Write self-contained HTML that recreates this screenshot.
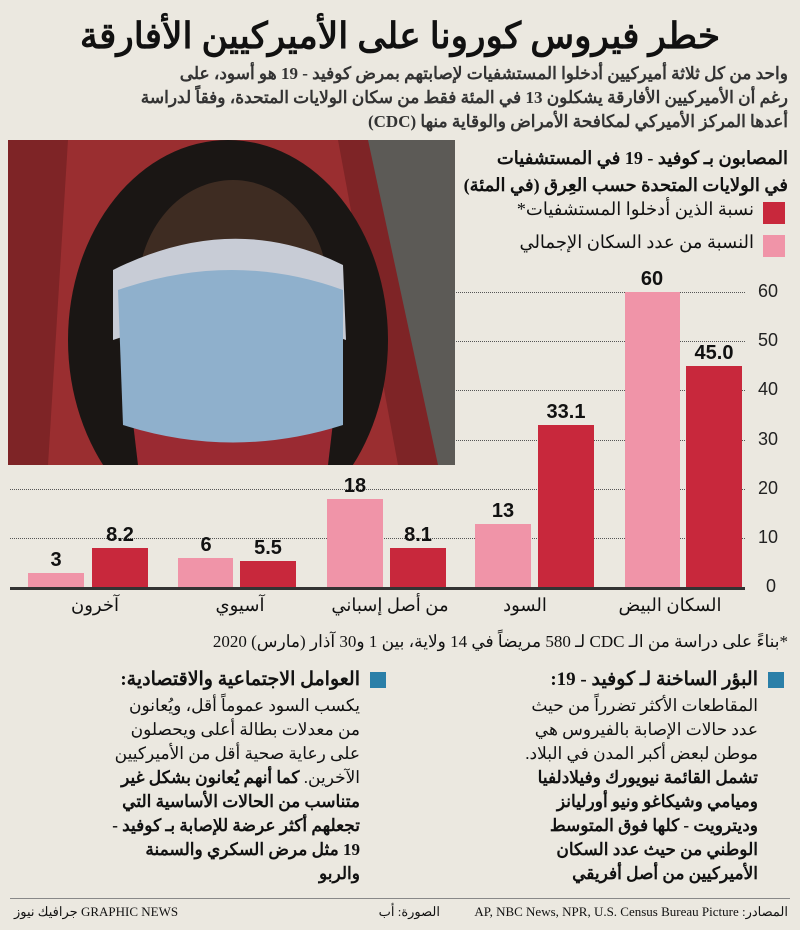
<!DOCTYPE html><html><head><meta charset="utf-8"><style>
body{margin:0;width:800px;height:930px;background:#ebe8e0;font-family:"Liberation Serif","Noto Serif CJK SC","Noto Sans CJK SC",serif;position:relative;overflow:hidden;color:#111}
.a{position:absolute;direction:rtl;text-align:right}
.b{position:absolute}
.v{position:absolute;font-family:"Liberation Sans",sans-serif;font-weight:bold;font-size:20px;text-align:center;width:70px}
.t{position:absolute;font-family:"Liberation Sans",sans-serif;font-size:18px;color:#222}
.g{position:absolute;left:10px;width:735px;border-top:1px dotted #555}
</style></head><body>
<div class="a" style="left:0;width:800px;top:16px;text-align:center;font-size:36px;font-weight:bold;line-height:40px">خطر فيروس كورونا على الأميركيين الأفارقة</div>
<div class="a" style="right:12px;width:780px;top:62px;font-size:17px;font-weight:bold;line-height:24px;color:#333">واحد من كل ثلاثة أميركيين أدخلوا المستشفيات لإصابتهم بمرض كوفيد - 19 هو أسود، على<br>رغم أن الأميركيين الأفارقة يشكلون 13 في المئة فقط من سكان الولايات المتحدة، وفقاً لدراسة<br>أعدها المركز الأميركي لمكافحة الأمراض والوقاية منها (CDC)</div>
<div class="g" style="top:292px"></div><div class="g" style="top:341px"></div><div class="g" style="top:390px"></div><div class="g" style="top:440px"></div><div class="g" style="top:489px"></div><div class="g" style="top:538px"></div>
<svg class="b" style="left:8px;top:140px;z-index:2" width="447" height="325">
<rect width="447" height="325" fill="#2e2a28"/>
<rect x="330" width="117" height="325" fill="#5c5a56"/>
<path d="M0 0 H360 L430 325 H0 Z" fill="#7e2426"/>
<path d="M60 0 H330 L390 325 H40 Z" fill="#9a2e30"/>
<ellipse cx="220" cy="200" rx="160" ry="200" fill="#1a1614"/>
<ellipse cx="225" cy="150" rx="95" ry="110" fill="#3e2c22"/>
<path d="M120 240 Q225 180 330 240 L320 325 H130 Z" fill="#9a2a32"/>
<path d="M105 130 Q225 70 335 125 L338 200 Q225 160 105 200 Z" fill="#c8ccd6"/>
<path d="M110 150 Q225 110 335 150 L335 285 Q225 320 115 285 Z" fill="#8fb0cc"/>
</svg>
<div class="a" style="right:12px;top:145px;font-size:18px;font-weight:bold;line-height:27px;z-index:3">المصابون بـ كوفيد - 19 في المستشفيات<br>في الولايات المتحدة حسب العِرق (في المئة)</div>
<div class="b" style="left:763px;top:202px;width:22px;height:22px;background:#c8283c"></div>
<div class="a" style="right:46px;top:199px;font-size:18px">نسبة الذين أدخلوا المستشفيات*</div>
<div class="b" style="left:763px;top:235px;width:22px;height:22px;background:#f094a8"></div>
<div class="a" style="right:46px;top:232px;font-size:18px">النسبة من عدد السكان الإجمالي</div>
<div class="t" style="left:758px;top:281px">60</div><div class="t" style="left:758px;top:330px">50</div><div class="t" style="left:758px;top:379px">40</div><div class="t" style="left:758px;top:429px">30</div><div class="t" style="left:758px;top:478px">20</div><div class="t" style="left:758px;top:527px">10</div><div class="t" style="left:766px;top:576px">0</div>
<div class="b" style="left:625px;top:292px;width:55px;height:296px;background:#f094a8"></div>
<div class="b" style="left:686px;top:366px;width:56px;height:222px;background:#c8283c"></div>
<div class="b" style="left:475px;top:524px;width:56px;height:64px;background:#f094a8"></div>
<div class="b" style="left:538px;top:425px;width:56px;height:163px;background:#c8283c"></div>
<div class="b" style="left:327px;top:499px;width:56px;height:89px;background:#f094a8"></div>
<div class="b" style="left:390px;top:548px;width:56px;height:40px;background:#c8283c"></div>
<div class="b" style="left:178px;top:558px;width:55px;height:30px;background:#f094a8"></div>
<div class="b" style="left:240px;top:561px;width:56px;height:27px;background:#c8283c"></div>
<div class="b" style="left:28px;top:573px;width:56px;height:15px;background:#f094a8"></div>
<div class="b" style="left:92px;top:548px;width:56px;height:40px;background:#c8283c"></div>
<div class="b" style="left:10px;top:587px;width:735px;height:3px;background:#333"></div>
<div class="v" style="left:617px;top:268px">60</div><div class="v" style="left:679px;top:342px">45.0</div>
<div class="v" style="left:468px;top:500px">13</div><div class="v" style="left:531px;top:401px">33.1</div>
<div class="v" style="left:320px;top:475px">18</div><div class="v" style="left:383px;top:524px">8.1</div>
<div class="v" style="left:171px;top:534px">6</div><div class="v" style="left:233px;top:537px">5.5</div>
<div class="v" style="left:21px;top:549px">3</div><div class="v" style="left:85px;top:524px">8.2</div>
<div class="a" style="left:600px;width:140px;top:595px;text-align:center;font-size:18px">السكان البيض</div>
<div class="a" style="left:470px;width:110px;top:595px;text-align:center;font-size:18px">السود</div>
<div class="a" style="left:300px;width:180px;top:595px;text-align:center;font-size:18px">من أصل إسباني</div>
<div class="a" style="left:180px;width:120px;top:595px;text-align:center;font-size:18px">آسيوي</div>
<div class="a" style="left:40px;width:110px;top:595px;text-align:center;font-size:18px">آخرون</div>
<div class="a" style="right:12px;top:632px;font-size:17px">*بناءً على دراسة من الـ CDC لـ 580 مريضاً في 14 ولاية، بين 1 و30 آذار (مارس) 2020</div>
<div class="b" style="left:768px;top:672px;width:16px;height:16px;background:#2a7fa8"></div>
<div class="a" style="right:42px;top:668px;font-size:19px;font-weight:bold">البؤر الساخنة لـ كوفيد - 19:</div>
<div class="a" style="right:42px;width:250px;top:694px;font-size:17px;line-height:24px">المقاطعات الأكثر تضرراً من حيث عدد حالات الإصابة بالفيروس هي موطن لبعض أكبر المدن في البلاد. <b>تشمل القائمة نيويورك وفيلادلفيا وميامي وشيكاغو ونيو أورليانز وديترويت - كلها فوق المتوسط الوطني من حيث عدد السكان الأميركيين من أصل أفريقي</b></div>
<div class="b" style="left:370px;top:672px;width:16px;height:16px;background:#2a7fa8"></div>
<div class="a" style="right:440px;top:668px;font-size:19px;font-weight:bold">العوامل الاجتماعية والاقتصادية:</div>
<div class="a" style="right:440px;width:250px;top:694px;font-size:17px;line-height:24px">يكسب السود عموماً أقل، ويُعانون من معدلات بطالة أعلى ويحصلون على رعاية صحية أقل من الأميركيين الآخرين. <b>كما أنهم يُعانون بشكل غير متناسب من الحالات الأساسية التي تجعلهم أكثر عرضة للإصابة بـ كوفيد - 19 مثل مرض السكري والسمنة والربو</b></div>
<div class="b" style="left:10px;top:898px;width:780px;border-top:1px solid #888"></div>
<div class="a" style="right:12px;top:904px;font-size:13px">المصادر: AP, NBC News, NPR, U.S. Census Bureau Picture</div>
<div class="a" style="right:360px;top:904px;font-size:13px">الصورة: أب</div>
<div class="b" style="left:14px;top:904px;font-size:13px;direction:rtl">GRAPHIC NEWS جرافيك نيوز</div>
</body></html>
